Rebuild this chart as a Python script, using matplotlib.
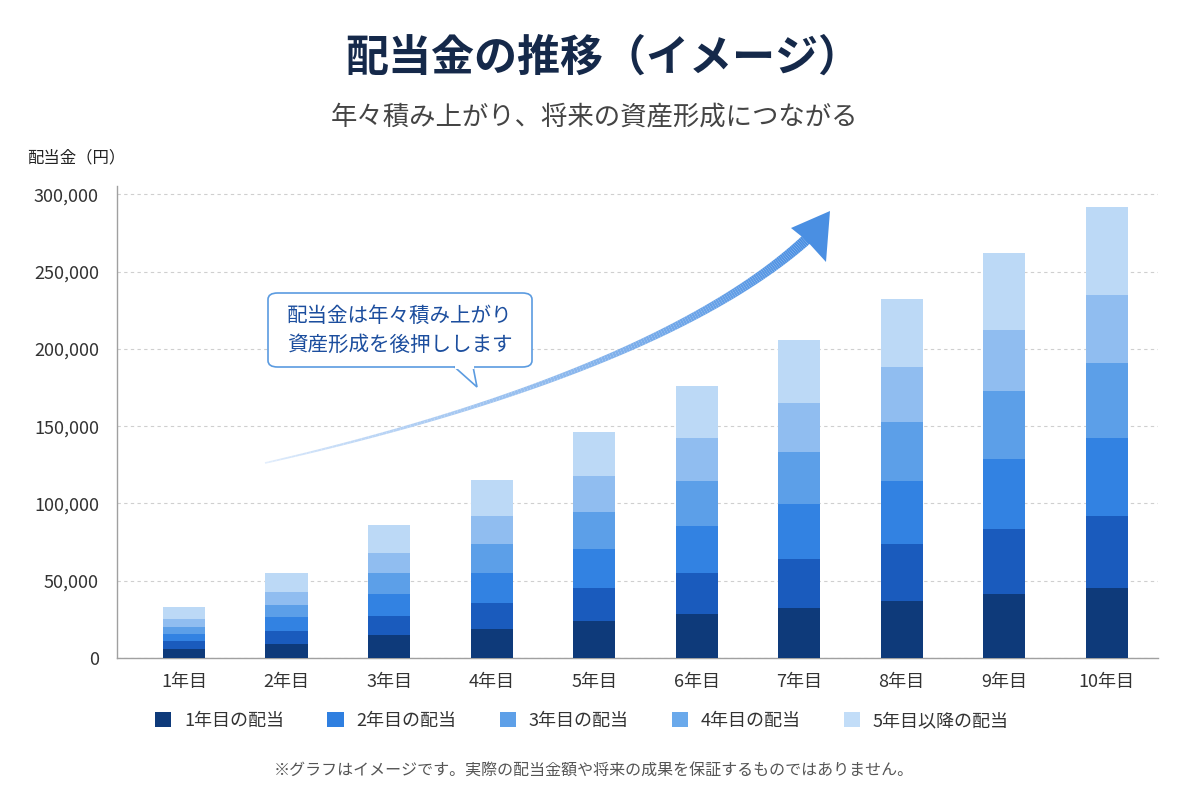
import numpy as np
import matplotlib
matplotlib.use("Agg")
import matplotlib.pyplot as plt
from matplotlib.patches import Patch, FancyBboxPatch, Polygon
from matplotlib.collections import LineCollection
from matplotlib.ticker import FuncFormatter

plt.rcParams['font.family'] = ['Noto Sans CJK JP', 'DejaVu Sans']

# ---------------- data ----------------
years = ["1年目", "2年目", "3年目", "4年目", "5年目", "6年目", "7年目", "8年目", "9年目", "10年目"]
seg1 = [5600, 9300, 14700, 19000, 23700, 28300, 32600, 36700, 41200, 45100]
seg2 = [5200, 8200, 12500, 16400, 21300, 26500, 31400, 37300, 42200, 46500]
seg3 = [4700, 9000, 14200, 19600, 25300, 30500, 35400, 40300, 45700, 50700]
seg4 = [4800, 8000, 13600, 19000, 23900, 29200, 33800, 38300, 43800, 48400]
seg5 = [4700, 8200, 12700, 17600, 23300, 27800, 31900, 35600, 39200, 44500]
seg6 = [7800, 12300, 18100, 23900, 29100, 34000, 40500, 44400, 50200, 56400]
yticks = [0, 50000, 100000, 150000, 200000, 250000, 300000]
legend_labels = ["1年目の配当", "2年目の配当", "3年目の配当", "4年目の配当", "5年目以降の配当"]

seg_colors = ["#0e3a7a", "#1a5bbd", "#3282e2", "#5c9fe8", "#90bdf0", "#bcd9f6"]
legend_colors = ["#0e3a7a", "#2f7fe0", "#5ea0e8", "#6aa9eb", "#c2ddf8"]

W, H = 1200, 800
fig = plt.figure(figsize=(12, 8), dpi=100)
fig.patch.set_facecolor("white")

def fx(px):
    return px / W

def fy(py):
    return 1 - py / H

ax = fig.add_axes([fx(117), fy(658), fx(1158) - fx(117), fy(186) - fy(658)])

x = np.arange(len(years))
bottom = np.zeros(len(years))
for seg, col in zip([seg1, seg2, seg3, seg4, seg5, seg6], seg_colors):
    ax.bar(x, seg, bottom=bottom, width=0.41, color=col, edgecolor="none", zorder=3)
    bottom += np.array(seg)

ax.set_xlim(-0.653, 9.5)
ax.set_ylim(0, 305500)
ax.set_yticks(yticks)
ax.yaxis.set_major_formatter(FuncFormatter(lambda v, p: f"{int(v):,}"))
ax.set_xticks(x)
ax.set_xticklabels(years)
ax.tick_params(axis="y", length=0, pad=13, labelsize=13, labelcolor="#333333")
ax.tick_params(axis="x", length=0, pad=11, labelsize=13, labelcolor="#333333")
for s in ["top", "right"]:
    ax.spines[s].set_visible(False)
for s in ["left", "bottom"]:
    ax.spines[s].set_color("#a0a0a0")
    ax.spines[s].set_linewidth(1.0)
ax.yaxis.grid(True, color="#cfcfcf", linestyle=(0, (3, 3)), linewidth=0.8, zorder=0)
ax.set_axisbelow(True)

# ---------------- titles ----------------
fig.text(fx(603), fy(58), "配当金の推移（イメージ）", ha="center", va="center",
         fontsize=31, fontweight="bold", color="#15294a")
fig.text(fx(595), fy(117), "年々積み上がり、将来の資産形成につながる", ha="center", va="center",
         fontsize=19, color="#444444")
fig.text(fx(27), fy(158), "配当金（円）", ha="left", va="center", fontsize=11.8, color="#222222")

# ---------------- curved arrow ----------------
P0 = np.array([265, 463.0]); P1 = np.array([520, 405.0]); P2 = np.array([710, 328.0]); P3 = np.array([808, 238.0])
t = np.linspace(0, 1, 200)[:, None]
pts = (1 - t) ** 3 * P0 + 3 * (1 - t) ** 2 * t * P1 + 3 * (1 - t) * t ** 2 * P2 + t ** 3 * P3
fpts = np.column_stack([fx(pts[:, 0]), fy(pts[:, 1])])
segs = np.stack([fpts[:-1], fpts[1:]], axis=1)
tt = np.linspace(0, 1, len(segs))
c0 = np.array(matplotlib.colors.to_rgb("#e3eefc"))
c1 = np.array(matplotlib.colors.to_rgb("#4a8fe2"))
cols = [tuple(c0 + (c1 - c0) * v ** 0.7) for v in tt]
widths = 1.2 + 6.8 * tt ** 1.2
lc = LineCollection(segs, colors=cols, linewidths=widths, transform=fig.transFigure,
                    capstyle="butt", zorder=4)
fig.add_artist(lc)
head = [(830, 211), (791, 228), (806, 240), (826, 262)]
fig.add_artist(Polygon([(fx(a), fy(b)) for a, b in head], closed=True,
                       transform=fig.transFigure, facecolor="#4a8fe2", edgecolor="none", zorder=5))

# ---------------- callout ----------------
box = FancyBboxPatch((fx(268), fy(367)), fx(532) - fx(268), fy(293) - fy(367),
                     boxstyle="round,pad=0,rounding_size=0.008", transform=fig.transFigure,
                     facecolor="white", edgecolor="#5b9be0", linewidth=1.2, zorder=6)
fig.add_artist(box)
tail = [(454, 366.5), (477, 387), (473, 366.5)]
fig.add_artist(Polygon([(fx(a), fy(b)) for a, b in tail], closed=False,
                       transform=fig.transFigure, facecolor="white", edgecolor="#5b9be0",
                       linewidth=1.2, zorder=7))
fig.add_artist(matplotlib.lines.Line2D([fx(455.5), fx(471.5)], [fy(367), fy(367)],
                                       transform=fig.transFigure, color="white", linewidth=2.2, zorder=8))
fig.text(fx(400), fy(316), "配当金は年々積み上がり", ha="center", va="center",
         fontsize=14.8, color="#1c4e9e", zorder=9)
fig.text(fx(400), fy(345), "資産形成を後押しします", ha="center", va="center",
         fontsize=14.8, color="#1c4e9e", zorder=9)

# ---------------- legend ----------------
handles = [Patch(facecolor=c, edgecolor="none") for c in legend_colors]
fig.legend(handles, legend_labels, loc="center", bbox_to_anchor=(fx(582), fy(721)),
           ncol=5, frameon=False, fontsize=13, handlelength=0.9, handleheight=0.9,
           handletextpad=0.7, columnspacing=2.4, labelcolor="#333333")

fig.text(fx(594), fy(771), "※グラフはイメージです。実際の配当金額や将来の成果を保証するものではありません。",
         ha="center", va="center", fontsize=11.5, color="#555555")

fig.savefig("out.png", dpi=100, facecolor="white")
